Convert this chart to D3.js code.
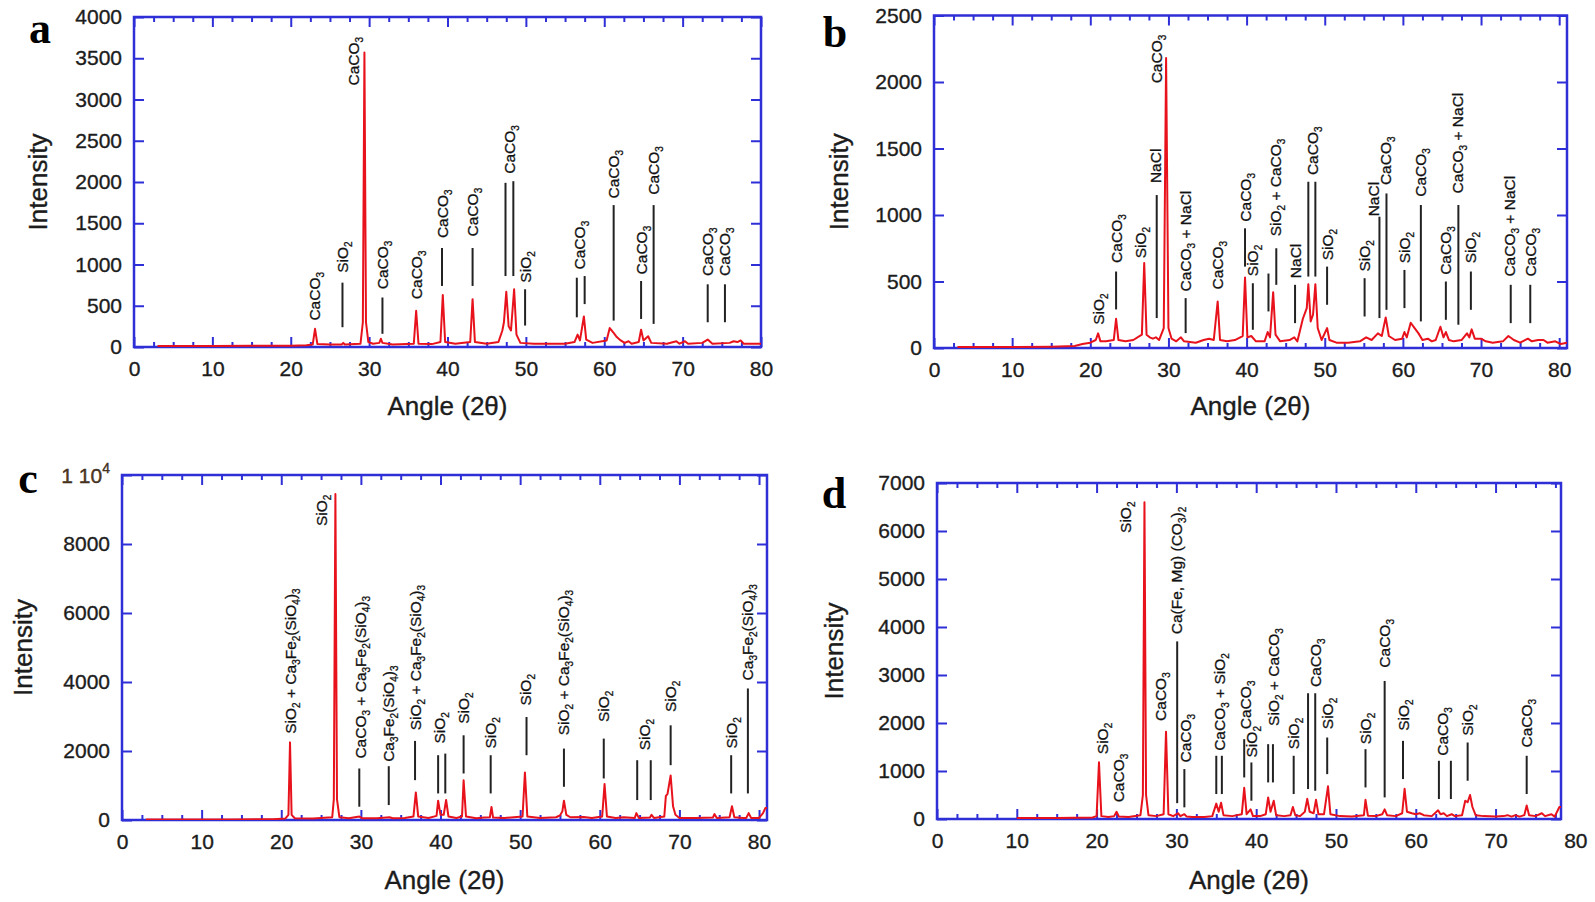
<!DOCTYPE html>
<html><head><meta charset="utf-8">
<script src="https://cdn.jsdelivr.net/npm/d3@7"></script>
<style>body{margin:0;background:#fff}svg{display:block}</style>
</head><body>
<svg id="fig" width="1595" height="902"></svg>
<script>
// ---------------- DATA ----------------
const xTickValues = [0,10,20,30,40,50,60,70,80];
const yTicksA = [0,500,1000,1500,2000,2500,3000,3500,4000];
const yTicksB = [0,500,1000,1500,2000,2500];
const yTicksC = [0,2000,4000,6000,8000,10000];
const yTicksD = [0,1000,2000,3000,4000,5000,6000,7000];

// [angle 2θ, intensity]
const seriesA = [[3,12],[10,12],[15,14],[20,16],[22,22],[22.8,30],[23.1,220],[23.4,35],[25,30],[26.5,30],[26.7,50],[26.9,30],[28.9,40],[29.2,300],[29.4,3570],[29.6,300],[29.9,60],[30.5,40],[31.3,50],[31.5,100],[31.7,50],[33,30],[35.7,40],[36.0,440],[36.3,40],[38,35],[39.1,60],[39.4,630],[39.7,60],[41,40],[42.9,60],[43.2,580],[43.5,60],[45,40],[46.5,60],[47.0,200],[47.2,300],[47.5,670],[47.8,250],[48.1,200],[48.5,700],[48.8,150],[49.3,50],[51,40],[55,40],[56.2,60],[56.6,150],[56.9,80],[57.4,370],[57.7,90],[58.5,50],[60.3,80],[60.7,230],[61.2,170],[61.6,120],[62.1,80],[62.6,50],[63.1,70],[63.5,40],[64.4,60],[64.7,210],[65.0,80],[65.6,130],[66,50],[68,40],[69.2,70],[69.6,40],[70.3,70],[70.7,40],[72.5,50],[73.2,90],[73.8,40],[76.0,50],[76.5,70],[77,60],[77.4,80],[77.8,40],[79,40],[80,40]];

const seriesB = [[3,8],[10,8],[15,10],[18,15],[19,30],[20,40],[20.7,60],[21.0,110],[21.3,50],[22,50],[23.0,60],[23.3,220],[23.6,60],[24.5,50],[25.5,60],[26.6,100],[26.9,640],[27.2,100],[27.6,80],[28,70],[28.4,80],[28.8,60],[29.4,150],[29.7,2180],[30.0,150],[30.4,70],[31,50],[31.6,80],[32,50],[33.5,40],[34.5,60],[35.2,70],[35.8,60],[36.3,350],[36.6,60],[37.5,50],[38.5,60],[39.5,90],[39.8,530],[40.1,80],[40.6,90],[41.2,50],[42.3,50],[42.7,120],[43.0,80],[43.4,420],[43.7,100],[44.3,50],[45.5,60],[46.1,80],[46.5,50],[47.2,220],[47.7,300],[47.9,480],[48.2,200],[48.5,250],[48.8,480],[49.1,150],[49.6,60],[50.3,150],[50.6,60],[51.5,40],[53,40],[54.5,50],[55.3,80],[56,60],[56.8,110],[57.3,90],[57.8,230],[58.2,90],[59,60],[59.9,70],[60.2,120],[60.5,80],[61.0,190],[61.5,150],[62,110],[62.5,60],[63.2,70],[63.7,50],[64.2,60],[64.8,160],[65.2,80],[65.5,120],[65.9,60],[66.5,50],[67.5,60],[68.2,110],[68.5,80],[68.8,140],[69.2,70],[70,70],[70.6,50],[71.5,40],[72.8,50],[73.5,90],[74.2,60],[75,40],[76,70],[76.5,50],[77.3,60],[78,60],[78.5,40],[79.5,50],[80.2,30],[81,40]];

const seriesC = [[3,15],[8,15],[14,18],[19,25],[20.5,40],[20.9,150],[21.1,2250],[21.3,150],[21.7,50],[24,45],[26.4,80],[26.6,600],[26.8,9450],[27.0,600],[27.3,80],[28.5,50],[29.8,100],[30.2,50],[32,50],[33.6,80],[34,50],[35.5,60],[36.6,100],[36.9,800],[37.2,100],[38.5,60],[39.5,120],[39.7,560],[40.0,150],[40.4,150],[40.7,580],[41.0,100],[42,60],[42.7,100],[42.9,1150],[43.2,100],[44.5,50],[45.5,70],[46.2,80],[46.4,380],[46.6,70],[48,60],[50.3,100],[50.6,1380],[50.9,100],[52.5,60],[54.5,80],[55.0,130],[55.3,250],[55.5,560],[55.8,150],[56.3,80],[58,90],[59,60],[60.3,100],[60.6,1040],[60.9,100],[62,60],[63,80],[64.4,60],[64.6,200],[64.9,60],[66.3,70],[66.5,150],[66.8,60],[68.1,100],[68.3,700],[68.5,750],[68.9,1290],[69.2,400],[69.5,150],[70,60],[72,60],[74.2,70],[74.4,170],[74.7,60],[76.3,80],[76.6,400],[76.9,80],[78.0,60],[78.4,60],[78.7,200],[79.0,60],[80.0,60],[80.5,200],[80.8,350],[81,350]];

const seriesD = [[10,20],[15,20],[19.5,30],[20.0,60],[20.3,1180],[20.6,60],[21.5,40],[22.2,60],[22.5,150],[22.8,50],[24,40],[25.5,80],[25.8,500],[26.0,6600],[26.2,500],[26.5,80],[27.5,60],[28.4,100],[28.7,1820],[29.0,100],[29.6,60],[30.2,120],[30.5,60],[31.0,100],[31.3,50],[32,40],[33.5,40],[34.5,60],[35.0,320],[35.3,150],[35.6,340],[35.9,80],[37,60],[38.2,100],[38.5,650],[38.8,100],[39.3,200],[39.6,60],[40.5,60],[41.2,100],[41.5,450],[41.8,150],[42.2,380],[42.5,80],[43.5,60],[44.3,80],[44.6,250],[44.9,80],[45.5,60],[46.1,150],[46.4,420],[46.7,150],[47.2,120],[47.5,400],[47.8,100],[48.5,100],[49.0,680],[49.3,100],[50.5,60],[52,50],[53.5,80],[53.7,400],[54,70],[55,60],[55.8,100],[56.1,200],[56.4,80],[57.5,60],[58.3,120],[58.6,630],[58.9,150],[59.5,120],[60,100],[60.5,120],[61,80],[62,60],[62.8,180],[63.1,100],[63.5,120],[63.9,60],[64.5,100],[64.9,60],[65.8,80],[66.2,380],[66.5,350],[66.8,500],[67.1,250],[67.5,80],[68.5,60],[70,50],[71,60],[71.5,80],[72,50],[72.5,80],[73,50],[73.6,80],[73.9,280],[74.2,80],[75,60],[75.8,120],[76.2,60],[77,100],[77.4,50],[78.0,250],[78.3,250]];

// annotations: [label, text angle, text start intensity, [[line angle, top, bottom], ...]]
const annA = [
  ["CaCO_3",23.0,320,[]],
  ["SiO_2",26.6,900,[[26.6,780,240]]],
  ["CaCO_3",28.0,3170,[]],
  ["CaCO_3",31.7,700,[[31.7,600,160]]],
  ["CaCO_3",36.0,580,[]],
  ["CaCO_3",39.3,1320,[[39.3,1200,740]]],
  ["CaCO_3",43.2,1340,[[43.2,1200,740]]],
  ["CaCO_3",47.9,2100,[[47.4,1990,860],[48.4,2010,860]]],
  ["SiO_2",49.9,780,[[49.9,700,260]]],
  ["CaCO_3",56.9,940,[[56.5,840,360],[57.5,860,520]]],
  ["CaCO_3",61.2,1800,[[61.2,1720,320]]],
  ["CaCO_3",64.7,880,[[64.7,800,340]]],
  ["CaCO_3",66.3,1845,[[66.3,1720,280]]],
  ["CaCO_3",73.2,860,[[73.2,760,300]]],
  ["CaCO_3",75.4,860,[[75.4,760,300]]]
];
const annB = [
  ["SiO_2",21.0,175,[]],
  ["CaCO_3",23.3,640,[[23.3,575,290]]],
  ["SiO_2",26.4,675,[]],
  ["NaCl",28.4,1240,[[28.5,1150,225]]],
  ["CaCO_3",28.5,1990,[]],
  ["CaCO_3 + NaCl",32.2,425,[[32.2,375,112]]],
  ["CaCO_3",36.3,440,[]],
  ["CaCO_3",39.8,950,[[39.8,900,612]]],
  ["SiO_2",40.8,540,[[40.8,487,137]]],
  ["SiO_2 + CaCO_3",43.7,840,[[42.8,560,275],[43.8,750,475]]],
  ["NaCl",46.2,525,[[46.2,475,187]]],
  ["CaCO_3",48.4,1300,[[47.9,1250,537],[48.8,1250,537]]],
  ["SiO_2",50.3,660,[[50.3,612,325]]],
  ["SiO_2",55.1,575,[[55.1,525,237]]],
  ["NaCl",56.2,990,[[57.0,987,225]]],
  ["CaCO_3",57.8,1225,[[57.9,1162,287]]],
  ["SiO_2",60.2,637,[[60.2,587,300]]],
  ["CaCO_3",62.3,1137,[[62.3,1075,200]]],
  ["CaCO_3",65.5,550,[[65.5,500,212]]],
  ["CaCO_3 + NaCl",67.0,1162,[[67.1,1075,175]]],
  ["SiO_2",68.7,637,[[68.7,575,287]]],
  ["CaCO_3 + NaCl",73.7,537,[[73.8,475,187]]],
  ["CaCO_3",76.3,537,[[76.3,475,187]]]
];
const annC = [
  ["SiO_2 + Ca_3Fe_2(SiO_4)_3",21.1,2500,[]],
  ["SiO_2",25.0,8520,[]],
  ["CaCO_3 + Ca_3Fe_2(SiO_4)_3",29.9,1780,[[29.8,1493,385]]],
  ["Ca_3Fe_2(SiO_4)_3",33.5,1685,[[33.5,1560,433]]],
  ["SiO_2 + Ca_3Fe_2(SiO_4)_3",36.9,2600,[[36.8,2292,1155]]],
  ["SiO_2",39.9,2215,[[39.7,1878,770],[40.6,1925,770]]],
  ["SiO_2",42.9,2790,[[42.9,2455,1348]]],
  ["SiO_2",46.3,2070,[[46.3,1878,770]]],
  ["SiO_2",50.7,3320,[[50.8,2985,1878]]],
  ["SiO_2 + Ca_3Fe_2(SiO_4)_3",55.5,2456,[[55.5,2070,963]]],
  ["SiO_2",60.5,2840,[[60.5,2360,1204]]],
  ["SiO_2",65.6,2020,[[64.7,1733,578],[66.4,1733,578]]],
  ["SiO_2",68.9,3130,[[68.9,2744,1589]]],
  ["SiO_2",76.5,2070,[[76.5,1878,770]]],
  ["Ca_3Fe_2(SiO_4)_3",78.5,4045,[[78.6,3813,770]]]
];
const annD = [
  ["SiO_2",20.7,1350,[]],
  ["CaCO_3",22.8,347,[]],
  ["SiO_2",23.6,5960,[]],
  ["CaCO_3",28.0,2044,[]],
  ["Ca(Fe, Mg) (CO_3)_2",30.0,3850,[[30.1,3700,330]]],
  ["CaCO_3",31.1,1178,[[31.0,1040,243]]],
  ["CaCO_3 + SiO_2",35.4,1420,[[35.0,1317,520],[35.7,1317,520]]],
  ["CaCO_3",38.6,1871,[[38.5,1663,866]]],
  ["SiO_2",39.4,1282,[[39.4,1178,381]]],
  ["SiO_2 + CaCO_3",42.2,1940,[[41.5,1559,762],[42.1,1559,762]]],
  ["SiO_2",44.7,1455,[[44.7,1317,520]]],
  ["CaCO_3",47.4,2750,[[46.5,2620,624],[47.4,2620,589]]],
  ["SiO_2",49.0,1871,[[48.9,1698,935]]],
  ["SiO_2",53.7,1559,[[53.7,1455,658]]],
  ["CaCO_3",56.1,3153,[[56.1,2876,450]]],
  ["SiO_2",58.4,1836,[[58.4,1628,832]]],
  ["CaCO_3",63.4,1317,[[62.9,1213,416],[64.4,1213,416]]],
  ["SiO_2",66.5,1732,[[66.5,1594,797]]],
  ["CaCO_3",73.9,1490,[[73.9,1317,520]]]
];

// ---------------- LAYOUT ----------------
const panels = [
  {letter:"a", series:seriesA, ann:annA, yTicks:yTicksA, yMax:4000, xMax:80,   l:134, r:761,  t:17,  b:347, letterX:40,  letterY:43,  yTitleX:38,  xTitleY:415},
  {letter:"b", series:seriesB, ann:annB, yTicks:yTicksB, yMax:2500, xMax:81,   l:934, r:1567, t:15.5,b:348, letterX:835, letterY:47,  yTitleX:839, xTitleY:415},
  {letter:"c", series:seriesC, ann:annC, yTicks:yTicksC, yMax:10000,xMax:81,   l:122, r:767,  t:475, b:820, letterX:28,  letterY:493, yTitleX:23,  xTitleY:889},
  {letter:"d", series:seriesD, ann:annD, yTicks:yTicksD, yMax:7000, xMax:78.2, l:937, r:1561, t:483, b:819, letterX:834, letterY:508, yTitleX:834, xTitleY:889}
];

const BLUE = "#2f2fd8", RED = "#e8121c", TXT = "#1c1c1c";
const FONT = "Liberation Sans, Arial, sans-serif";
const svg = d3.select("#fig");
const defs = svg.append("defs");

function richText(sel, str, fs, subFs, subDy){
  const parts = str.split(/(_.)/).filter(s => s.length);
  let shifted = false;
  parts.forEach(p => {
    if (p[0] === "_") {
      sel.append("tspan").attr("font-size", subFs).attr("dy", shifted ? 0 : subDy).text(p[1]);
      shifted = true;
    } else {
      sel.append("tspan").attr("font-size", fs).attr("dy", shifted ? -subDy : 0).text(p);
      shifted = false;
    }
  });
}
const heavy = s => s.attr("stroke", TXT).attr("stroke-width", 0.35);

panels.forEach((p, i) => {
  const x = d3.scaleLinear().domain([0, p.xMax]).range([p.l, p.r]);
  const y = d3.scaleLinear().domain([0, p.yMax]).range([p.b, p.t]);
  const g = svg.append("g");
  const minor = d3.range(0, p.xMax + 0.001, 2.5).filter(v => v % 10 !== 0);
  const majorX = xTickValues.filter(v => v <= p.xMax);

  // axes
  const fmt = v => (v === 10000 ? "" : String(v));
  const gx = g.append("g").attr("transform", `translate(0,${p.b})`)
    .call(d3.axisBottom(x).tickValues(xTickValues).tickSize(0).tickPadding(14));
  gx.select(".domain").remove();
  gx.selectAll("text").attr("font-family",FONT).attr("font-size",21).attr("fill",TXT).call(heavy);
  const mk = (axis, tr, vals, size) => {
    const a = g.append("g").attr("transform", tr).call(axis.tickValues(vals).tickSize(size).tickFormat(""));
    a.select(".domain").remove();
    a.selectAll("line").attr("stroke", BLUE).attr("stroke-width", 2);
  };
  mk(d3.axisBottom(x), `translate(0,${p.b})`, majorX, -10);
  mk(d3.axisBottom(x), `translate(0,${p.b})`, minor, -5);
  mk(d3.axisTop(x), `translate(0,${p.t})`, majorX, -10);
  mk(d3.axisTop(x), `translate(0,${p.t})`, minor, -5);
  mk(d3.axisRight(y), `translate(${p.r},0)`, p.yTicks, -10);
  const gy = g.append("g").attr("transform", `translate(${p.l},0)`)
    .call(d3.axisLeft(y).tickValues(p.yTicks).tickSize(-10).tickPadding(12).tickFormat(fmt));
  gy.select(".domain").remove();
  gy.selectAll("line").attr("stroke", BLUE).attr("stroke-width", 2);
  gy.selectAll("text").attr("font-family",FONT).attr("font-size",21).attr("fill",TXT).call(heavy);
  if (p.yMax === 10000) {
    const t = g.append("text").attr("x", p.l - 12).attr("y", y(10000) + 8)
      .attr("text-anchor","end").attr("font-family",FONT).attr("fill","#5a3a1a").call(heavy);
    t.append("tspan").attr("font-size",21).text("1 10");
    t.append("tspan").attr("font-size",14).attr("dy",-10).text("4");
  }

  // box
  g.append("rect").attr("x", p.l).attr("y", p.t).attr("width", p.r - p.l).attr("height", p.b - p.t)
    .attr("fill","none").attr("stroke", BLUE).attr("stroke-width", 2.5);

  // data line
  defs.append("clipPath").attr("id","clip"+i).append("rect")
    .attr("x", p.l).attr("y", p.t).attr("width", p.r - p.l).attr("height", p.b - p.t);
  g.append("path").datum(p.series).attr("clip-path", `url(#clip${i})`)
    .attr("fill","none").attr("stroke", RED).attr("stroke-width", 2).attr("stroke-linejoin","round")
    .attr("d", d3.line().x(d => x(d[0])).y(d => y(d[1])));

  // annotations
  p.ann.forEach(a => {
    a[3].forEach(ln => {
      g.append("line").attr("x1", x(ln[0])).attr("x2", x(ln[0])).attr("y1", y(ln[1])).attr("y2", y(ln[2]))
        .attr("stroke", "#222").attr("stroke-width", 2);
    });
    const t = g.append("text")
      .attr("transform", `translate(${x(a[1]) + 5.5},${y(a[2])}) rotate(-90)`)
      .attr("font-family",FONT).attr("fill","#111").attr("stroke","#111").attr("stroke-width",0.3);
    richText(t, a[0], 15.5, 10, 4);
  });

  // titles
  g.append("text").attr("transform", `translate(${p.yTitleX + 9},${(p.t + p.b) / 2}) rotate(-90)`)
    .attr("text-anchor","middle").attr("font-family",FONT).attr("font-size",26).attr("fill",TXT).call(heavy)
    .text("Intensity");
  g.append("text").attr("x", (p.l + p.r) / 2).attr("y", p.xTitleY)
    .attr("text-anchor","middle").attr("font-family",FONT).attr("font-size",26).attr("fill",TXT).call(heavy)
    .text("Angle (2θ)");
  g.append("text").attr("x", p.letterX).attr("y", p.letterY).attr("text-anchor","middle")
    .attr("font-family","Liberation Serif, Times New Roman, serif").attr("font-weight","bold").attr("font-size",44)
    .attr("fill","#000").text(p.letter);
});
</script>
</body></html>
